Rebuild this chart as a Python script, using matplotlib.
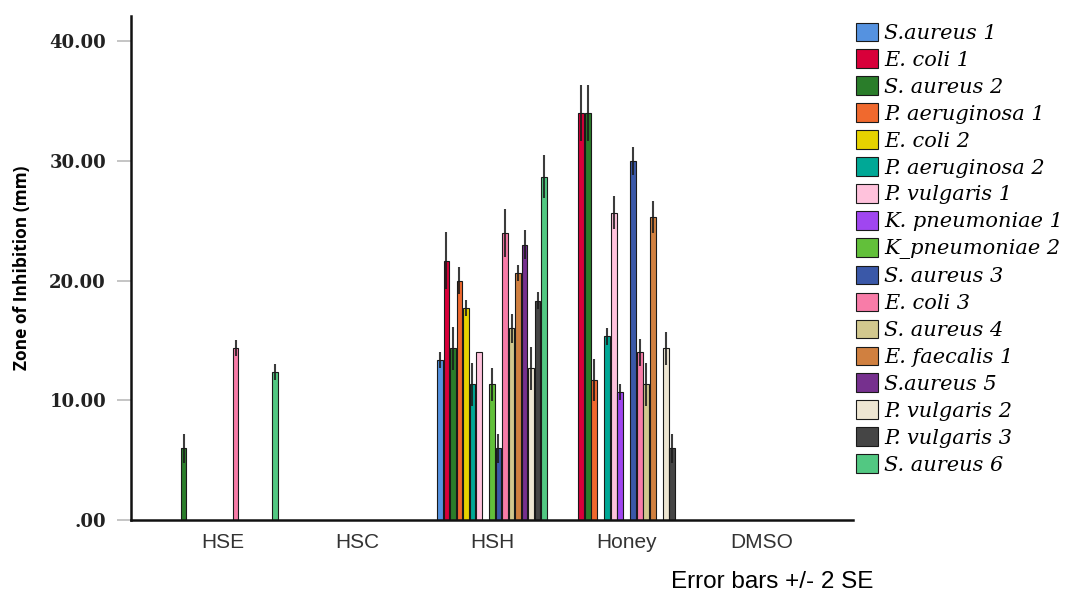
import matplotlib.pyplot as plt
import numpy as np

# ---- data ----
groups = ["HSE", "HSC", "HSH", "Honey", "DMSO"]
strains = ["S.aureus 1", "E. coli 1", "S. aureus 2", "P. aeruginosa 1", "E. coli 2",
           "P. aeruginosa 2", "P. vulgaris 1", "K. pneumoniae 1", "K_pneumoniae 2",
           "S. aureus 3", "E. coli 3", "S. aureus 4", "E. faecalis 1", "S.aureus 5",
           "P. vulgaris 2", "P. vulgaris 3", "S. aureus 6"]
colors = ["#5592e0", "#d8003a", "#2a7d2a", "#f0692e", "#e6d200", "#00a896",
          "#ffc2dc", "#a046f0", "#62c03a", "#3a58a8", "#f87ca8", "#d2c88e",
          "#d08040", "#76308e", "#eee6d2", "#454545", "#52c882"]

nan = np.nan
# one list per group, 17 strains each (nan = no bar)
hse_mean = [nan, nan, 6.0, nan, nan, nan, nan, nan, nan, nan, 14.33, nan, nan, nan, nan, nan, 12.33]
hse_err = [0, 0, 1.2, 0, 0, 0, 0, 0, 0, 0, 0.67, 0, 0, 0, 0, 0, 0.67]
hsc_mean = [nan] * 17
hsc_err = [0] * 17
hsh_mean = [13.33, 21.67, 14.33, 20.0, 17.67, 11.33, 14.0, nan, 11.33,
            6.0, 24.0, 16.0, 20.67, 23.0, 12.67, 18.33, 28.67]
hsh_err = [0.67, 2.4, 1.8, 1.15, 0.67, 1.8, 0.0, 0, 1.4,
           1.2, 2.0, 1.2, 0.67, 1.2, 1.8, 0.7, 1.8]
honey_mean = [nan, 34.0, 34.0, 11.67, nan, 15.33, 25.67, 10.67, nan,
              30.0, 14.0, 11.33, 25.33, nan, 14.33, 6.0, nan]
honey_err = [0, 2.3, 2.3, 1.76, 0, 0.67, 1.4, 0.67, 0,
             1.15, 1.15, 1.8, 1.33, 0, 1.4, 1.2, 0]
dmso_mean = [nan] * 17
dmso_err = [0] * 17

means = np.array([hse_mean, hsc_mean, hsh_mean, honey_mean, dmso_mean])
errs = np.array([hse_err, hsc_err, hsh_err, honey_err, dmso_err])

# ---- plot ----
fig = plt.figure(figsize=(10.67, 5.93), dpi=100)
ax = fig.add_axes([0.1228, 0.1231, 0.6766, 0.8499])

n = len(strains)
slot = 0.0483
x = np.arange(len(groups))
for i in range(n):
    pos = x + (i - (n - 1) / 2) * slot
    ax.bar(pos, means[:, i], width=slot * 0.88, color=colors[i],
           edgecolor="#1a1a1a", linewidth=0.8, label=strains[i], zorder=2)
    ok = ~np.isnan(means[:, i]) & (errs[:, i] > 0)
    ax.errorbar(pos[ok], means[ok, i], yerr=errs[ok, i], fmt="none",
                ecolor="#1a1a1a", elinewidth=1.5, capsize=0, alpha=0.85, zorder=3)

ax.set_xlim(-0.68, 4.68)
ax.set_ylim(0, 42.1)
ax.set_yticks([0, 10, 20, 30, 40])
ax.set_yticklabels([".00", "10.00", "20.00", "30.00", "40.00"],
                   fontfamily="DejaVu Serif", fontweight="bold", fontsize=13, color="#222222")
ax.set_xticks(x)
ax.set_xticklabels(groups, fontfamily="Liberation Sans", fontsize=15, color="#333333")
ax.tick_params(axis="y", length=10, width=1.2, color="#bbbbbb", pad=8)
ax.tick_params(axis="x", length=0, pad=9)

for s in ["top", "right"]:
    ax.spines[s].set_visible(False)
for s in ["left", "bottom"]:
    ax.spines[s].set_linewidth(1.8)
    ax.spines[s].set_color("#111111")

ax.set_ylabel("Zone of Inhibition (mm)", fontfamily="Open Sans", fontweight="bold",
              fontsize=12.5)
ax.yaxis.set_label_coords(-0.138, 0.5)

fig.text(0.724, 0.0, "Error bars +/- 2 SE", fontfamily="Liberation Sans",
         fontsize=17.5, ha="center", va="bottom")

leg = ax.legend(loc="upper left", bbox_to_anchor=(0.802, 0.962),
                bbox_transform=fig.transFigure, frameon=False,
                prop={"family": "DejaVu Serif", "style": "italic", "size": 15},
                handlelength=1.05, handleheight=1.0, handletextpad=0.32,
                labelspacing=0.31, borderpad=0, borderaxespad=0)

plt.savefig("out.png", dpi=100)
